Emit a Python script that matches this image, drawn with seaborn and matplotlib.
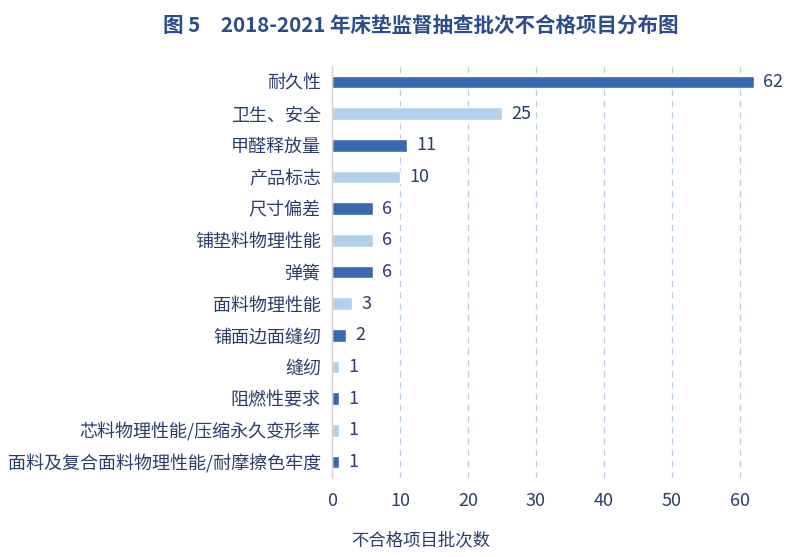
import matplotlib
matplotlib.use("Agg")
import matplotlib.pyplot as plt
import seaborn as sns
import pandas as pd

categories = ["耐久性", "卫生、安全", "甲醛释放量", "产品标志", "尺寸偏差", "铺垫料物理性能",
              "弹簧", "面料物理性能", "铺面边面缝纫", "缝纫", "阻燃性要求",
              "芯料物理性能/压缩永久变形率", "面料及复合面料物理性能/耐摩擦色牢度"]
values = [62, 25, 11, 10, 6, 6, 6, 3, 2, 1, 1, 1, 1]
groups = ["a", "b"] * 6 + ["a"]
xticks = [0, 10, 20, 30, 40, 50, 60]

sns.set_theme(style="white")
plt.rcParams['font.family'] = ['Noto Sans CJK SC', 'DejaVu Sans']

text_color = "#2B3E6B"
dark = "#3A68B0"
light = "#B2D0EC"

df = pd.DataFrame({"cat": categories, "val": values, "grp": groups})

fig = plt.figure(figsize=(8, 5.57), dpi=100)
ax = fig.add_axes([0.415, 0.142, 0.544, 0.7395])

sns.barplot(data=df, x="val", y="cat", hue="grp", palette={"a": dark, "b": light},
            dodge=False, legend=False, width=0.4, saturation=1, ax=ax, order=categories)

ax.set_xlim(0, 64)
ax.set_ylim(len(categories) - 0.5, -0.5)
ax.set_xticks(xticks)
ax.set_xticklabels([str(t) for t in xticks])
for t in xticks[1:]:
    ax.axvline(t, color="#B9CEE6", linestyle=(0, (5, 4)), linewidth=0.9, zorder=0)

for i, v in enumerate(values):
    ax.text(v + 1.4, i, str(v), va="center", ha="left", fontsize=13, color=text_color)

for s in ["top", "right", "bottom"]:
    ax.spines[s].set_visible(False)
ax.spines["left"].set_color("#D0D0D0")
ax.spines["left"].set_linewidth(1)

ax.tick_params(axis="x", length=0, pad=10, labelsize=13, labelcolor=text_color)
ax.tick_params(axis="y", length=0, pad=8, labelsize=13, labelcolor=text_color)
ax.set_ylabel("")
ax.set_xlabel("")
fig.text(0.526, 0.031, "不合格项目批次数", ha="center", va="center", fontsize=12.5, color=text_color)

fig.text(0.526, 0.955, "图 5　2018-2021 年床垫监督抽查批次不合格项目分布图", ha="center", va="center",
         fontsize=14.8, fontweight="bold", color="#2D4C8C")

fig.savefig("out.png", dpi=100)
